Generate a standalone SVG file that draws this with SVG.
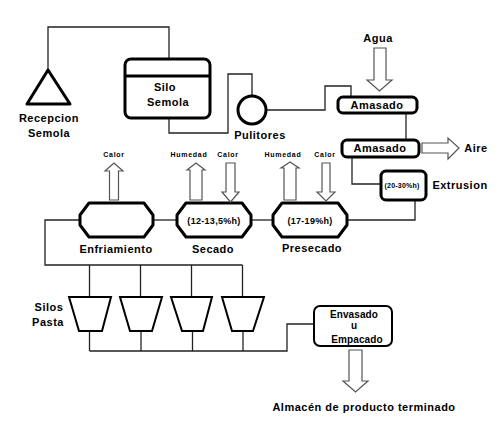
<svg xmlns="http://www.w3.org/2000/svg" width="500" height="431" viewBox="0 0 500 431">
<style>
.n{fill:#fff;stroke:#000;stroke-width:3;stroke-linejoin:round}
.nt{fill:#fff;stroke:#000;stroke-width:2}
.c{fill:none;stroke:#222;stroke-width:1.3}
.a{fill:#fff;stroke:#555;stroke-width:1.2;stroke-linejoin:miter}
text{font-family:"Liberation Sans",Arial,sans-serif;font-weight:bold;fill:#000;text-anchor:middle}
.L{font-size:11px;letter-spacing:0.5px}
.S{font-size:7px;letter-spacing:0.7px}
.M{font-size:9px;letter-spacing:0.3px}
.E{font-size:10px;letter-spacing:0.1px}
</style>
<rect width="500" height="431" fill="#fff"/>
<g id="connectors">
<polyline class="c" points="48,70 48,27 169,27 169,59"/>
<polyline class="c" points="169,118 169,133 228,133 228,74 252,74 252,96"/>
<polyline class="c" points="266,110 325,110 325,86 351,86 351,97"/>
<polyline class="c" points="406,113 406,140"/>
<polyline class="c" points="352,157 352,184 381,184"/>
<polyline class="c" points="415,200 415,220 347,220"/>
<polyline class="c" points="273,220 251,220"/>
<polyline class="c" points="177,220 153,220"/>
<polyline class="c" points="80,220 45,220 45,265 242.5,265"/>
<line class="c" x1="89.5" y1="265" x2="89.5" y2="297"/>
<line class="c" x1="140.5" y1="265" x2="140.5" y2="297"/>
<line class="c" x1="191.5" y1="265" x2="191.5" y2="297"/>
<line class="c" x1="242.5" y1="265" x2="242.5" y2="297"/>
<line class="c" x1="89.5" y1="331" x2="89.5" y2="351"/>
<line class="c" x1="141" y1="331" x2="141" y2="351"/>
<line class="c" x1="192.5" y1="331" x2="192.5" y2="351"/>
<line class="c" x1="243" y1="331" x2="243" y2="351"/>
<polyline class="c" points="89.5,351 287,351 287,324 314,324"/>
</g>
<g id="recepcion">
<polygon class="n" points="48,70 70,104 27,104"/>
<text class="L" x="49" y="122">Recepcion</text>
<text class="L" x="49" y="137">Semola</text>
</g>
<g id="silo">
<rect class="n" x="125" y="59" width="85" height="59" rx="6"/>
<line x1="125" y1="76" x2="210" y2="76" stroke="#000" stroke-width="3"/>
<text class="L" x="165" y="91">Silo</text>
<text class="L" x="168" y="106">Semola</text>
</g>
<g id="pulitores">
<circle class="n" cx="252" cy="110" r="14"/>
<text class="L" x="260" y="139">Pulitores</text>
</g>
<g id="agua">
<text class="L" x="378" y="42">Agua</text>
<polygon class="a" points="374,48 386,48 386,80 392,80 379.5,91 367,80 374,80"/>
</g>
<g id="amasado1">
<rect class="n" x="338" y="97" width="79" height="16" rx="5"/>
<text class="L" x="377" y="109">Amasado</text>
</g>
<g id="amasado2">
<rect class="n" x="342" y="140" width="77" height="17" rx="5"/>
<text class="L" x="380" y="152">Amasado</text>
</g>
<g id="aire">
<polygon class="a" points="422,143 448,143 448,138 459,148 448,159 448,153 422,153"/>
<text class="L" x="476" y="152">Aire</text>
</g>
<g id="extrusion">
<rect class="n" x="381" y="171" width="45" height="29" rx="5"/>
<text class="S" x="402" y="187.5" style="letter-spacing:0.2px">(20-30%h)</text>
<text class="L" x="460" y="189">Extrusion</text>
</g>
<g id="presecado">
<path class="n" d="M282,203 H338 L347,215 V225 L338,237 H282 L273,225 V215 Z"/>
<text class="M" x="310" y="223.5">(17-19%h)</text>
<text class="L" x="312" y="252">Presecado</text>
<text class="S" x="283" y="156.5">Humedad</text>
<polygon class="a" points="284,200 284,168 281,168 290,162 299,168 296,168 296,200"/>
<text class="S" x="325" y="156.5">Calor</text>
<polygon class="a" points="322,163 330,163 330,192 335,192 326,201 317,192 322,192"/>
</g>
<g id="secado">
<path class="n" d="M186,203 H242 L251,215 V225 L242,237 H186 L177,225 V215 Z"/>
<text class="M" x="214" y="224">(12-13,5%h)</text>
<text class="L" x="213" y="253">Secado</text>
<text class="S" x="189" y="156.5">Humedad</text>
<polygon class="a" points="190,200 190,170 187,170 196,163 205,170 202,170 202,200"/>
<text class="S" x="228" y="156.5">Calor</text>
<polygon class="a" points="226,163 235,163 235,192 239,192 230.5,202 222,192 226,192"/>
</g>
<g id="enfriamiento">
<path class="n" d="M89,203 H144 L153,215 V225 L144,237 H89 L80,225 V215 Z"/>
<text class="L" x="116" y="253">Enfriamiento</text>
<text class="S" x="114" y="156.5">Calor</text>
<polygon class="a" points="109.5,200 109.5,171 105,171 114,163 123,171 118.5,171 118.5,200"/>
</g>
<g id="silos-pasta">
<polygon class="nt" points="69,297 111,297 102,331 79,331"/>
<polygon class="nt" points="120,297 162,297 152,331 130,331"/>
<polygon class="nt" points="171,297 212,297 203,331 182,331"/>
<polygon class="nt" points="222,297 264,297 253,331 232,331"/>
<text class="L" x="49" y="311">Silos</text>
<text class="L" x="48" y="326">Pasta</text>
</g>
<g id="envasado">
<rect class="nt" x="314" y="306" width="78" height="40" rx="6"/>
<text class="E" x="354" y="317.5">Envasado</text>
<text class="E" x="354" y="328.5">u</text>
<text class="E" x="357" y="342.5">Empacado</text>
</g>
<g id="almacen">
<polygon class="a" points="349,350 362,350 362,381 368,381 355.5,392 343,381 349,381"/>
<text class="L" x="364" y="411">Almacén de producto terminado</text>
</g>
</svg>
